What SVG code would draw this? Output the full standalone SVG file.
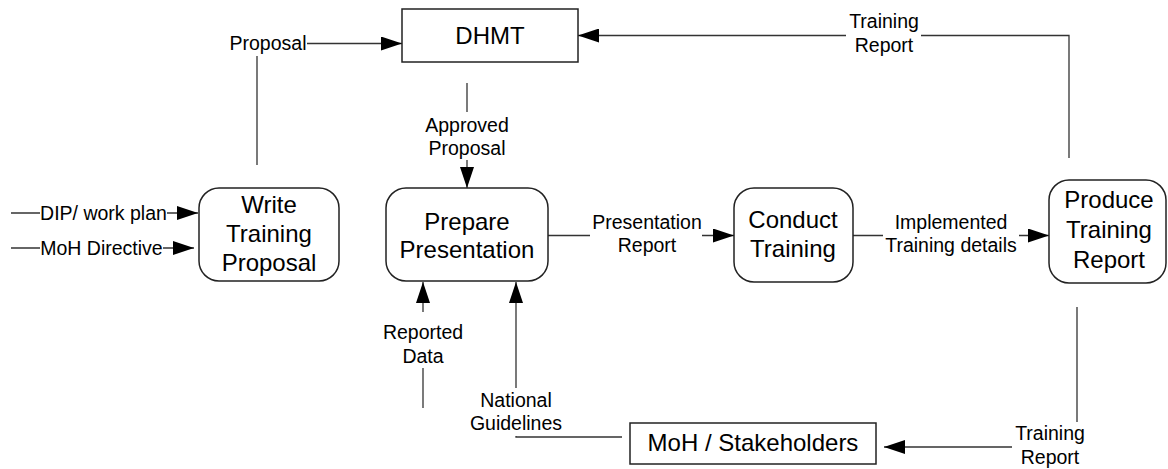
<svg xmlns="http://www.w3.org/2000/svg" width="1168" height="469" viewBox="0 0 1168 469">
  <style>
    .proc { fill: #ffffff; stroke: #222222; stroke-width: 1.5; }
    .ext { fill: #ffffff; stroke: #222222; stroke-width: 1.5; }
    .node { font-family: "Liberation Sans", Arial, sans-serif; font-size: 24px; fill: #000000; text-anchor: middle; }
    .lbl { font-family: "Liberation Sans", Arial, sans-serif; font-size: 19.5px; fill: #000000; text-anchor: middle; }
    .wire { fill: none; stroke: #333333; stroke-width: 1.3; }
    .mask { fill: #ffffff; stroke: none; }
  </style>
  <defs>
    <marker id="arrow" markerUnits="userSpaceOnUse" markerWidth="22" markerHeight="14" refX="21" refY="7" orient="auto">
      <path d="M0,0 L21,7 L0,14 Z" fill="#000000"/>
    </marker>
  </defs>
  <rect width="1168" height="469" fill="#ffffff"/>

  <!-- connectors -->
  <g id="connectors">
    <path class="wire" d="M257,165 V43.5 H402" marker-end="url(#arrow)"/>
    <path class="wire" d="M467,83 V188" marker-end="url(#arrow)"/>
    <path class="wire" d="M11,213 H198" marker-end="url(#arrow)"/>
    <path class="wire" d="M11,248 H194" marker-end="url(#arrow)"/>
    <path class="wire" d="M548,235.5 H734" marker-end="url(#arrow)"/>
    <path class="wire" d="M853,235.5 H1049" marker-end="url(#arrow)"/>
    <path class="wire" d="M1069,158 V35.5 H578" marker-end="url(#arrow)"/>
    <path class="wire" d="M1077,307 V447 H884" marker-end="url(#arrow)"/>
    <path class="wire" d="M622,437 H516 V282" marker-end="url(#arrow)"/>
    <path class="wire" d="M423,408 V282" marker-end="url(#arrow)"/>

    <!-- connector labels on white backing -->
    <g id="lbl-proposal">
      <rect class="mask" x="228" y="28" width="79" height="28"/>
      <text class="lbl" x="268" y="50">Proposal</text>
    </g>
    <g id="lbl-approved">
      <rect class="mask" x="420" y="112" width="94" height="48"/>
      <text class="lbl" x="467" y="132">Approved</text>
      <text class="lbl" x="467" y="155">Proposal</text>
    </g>
    <g id="lbl-dip">
      <rect class="mask" x="40" y="200" width="127" height="26"/>
      <text class="lbl" x="103.5" y="220">DIP/ work plan</text>
    </g>
    <g id="lbl-directive">
      <rect class="mask" x="40" y="235" width="123" height="26"/>
      <text class="lbl" x="101.5" y="255">MoH Directive</text>
    </g>
    <g id="lbl-presentation">
      <rect class="mask" x="590" y="212" width="112" height="46"/>
      <text class="lbl" x="647" y="229">Presentation</text>
      <text class="lbl" x="647" y="252">Report</text>
    </g>
    <g id="lbl-implemented">
      <rect class="mask" x="883" y="212" width="136" height="46"/>
      <text class="lbl" x="951" y="229">Implemented</text>
      <text class="lbl" x="951" y="252">Training details</text>
    </g>
    <g id="lbl-report-top">
      <rect class="mask" x="846" y="10" width="75" height="48"/>
      <text class="lbl" x="884" y="28">Training</text>
      <text class="lbl" x="884" y="52">Report</text>
    </g>
    <g id="lbl-report-bottom">
      <rect class="mask" x="1012" y="422" width="78" height="47"/>
      <text class="lbl" x="1050" y="440">Training</text>
      <text class="lbl" x="1050" y="464">Report</text>
    </g>
    <g id="lbl-guidelines">
      <rect class="mask" x="466" y="388" width="100" height="48"/>
      <text class="lbl" x="516" y="407">National</text>
      <text class="lbl" x="516" y="430">Guidelines</text>
    </g>
    <g id="lbl-reported">
      <rect class="mask" x="378" y="312" width="90" height="56"/>
      <text class="lbl" x="423" y="339">Reported</text>
      <text class="lbl" x="423" y="363">Data</text>
    </g>
  </g>

  <!-- external entities -->
  <g id="dhmt">
    <rect class="ext" x="402" y="9" width="176" height="53"/>
    <text class="node" x="490" y="44">DHMT</text>
  </g>
  <g id="moh-stakeholders">
    <rect class="ext" x="630" y="423" width="246" height="41"/>
    <text class="node" x="753" y="451">MoH / Stakeholders</text>
  </g>

  <!-- processes -->
  <g id="write-proposal">
    <rect class="proc" x="199" y="188" width="140" height="93" rx="20" ry="20"/>
    <text class="node" x="269" y="213">Write</text>
    <text class="node" x="269" y="242">Training</text>
    <text class="node" x="269" y="271">Proposal</text>
  </g>
  <g id="prepare-presentation">
    <rect class="proc" x="386" y="188" width="162" height="93" rx="20" ry="20"/>
    <text class="node" x="467" y="230">Prepare</text>
    <text class="node" x="467" y="258">Presentation</text>
  </g>
  <g id="conduct-training">
    <rect class="proc" x="734" y="188" width="119" height="94" rx="20" ry="20"/>
    <text class="node" x="793" y="228">Conduct</text>
    <text class="node" x="793" y="257">Training</text>
  </g>
  <g id="produce-report">
    <rect class="proc" x="1049" y="180" width="117" height="103" rx="20" ry="20"/>
    <text class="node" x="1109" y="208">Produce</text>
    <text class="node" x="1109" y="238">Training</text>
    <text class="node" x="1109" y="268">Report</text>
  </g>
</svg>
